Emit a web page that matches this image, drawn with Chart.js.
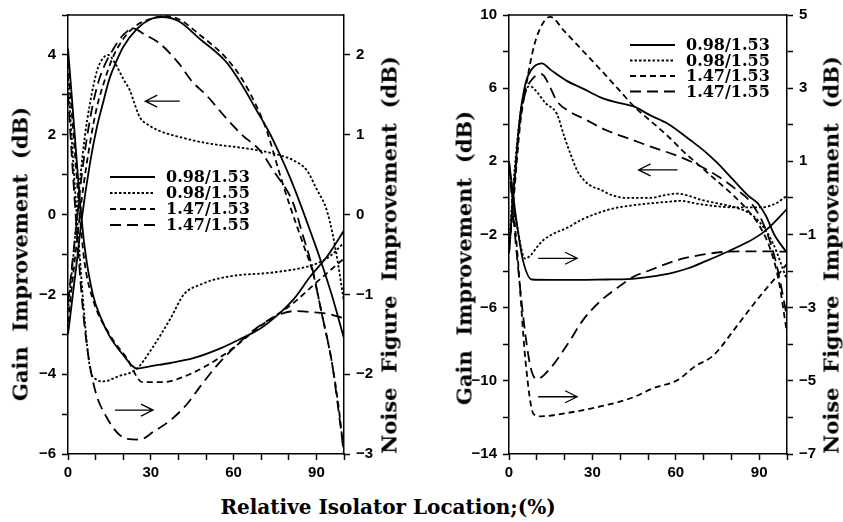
<!DOCTYPE html>
<html>
<head>
<meta charset="utf-8">
<script src="https://cdn.jsdelivr.net/npm/chart.js@4.4.1/dist/chart.umd.min.js"></script>
<style>
  body { margin: 0; background: #fff; width: 843px; height: 522px; position: relative; overflow: hidden; }
  canvas { position: absolute; top: 0; }
  #c1 { left: 0; }
  #c2 { left: 440px; }
  .t { position: absolute; font: bold 21px 'DejaVu Serif'; color: #000; white-space: pre; line-height: 1; }
  .v { transform: translate(-50%, -50%) rotate(-90deg); }
  .h { transform: translate(-50%, -50%); }
</style>
</head>
<body>
<canvas id="c1" width="430" height="480"></canvas>
<canvas id="c2" width="403" height="480"></canvas>
<div class="t v" style="left:20px; top:254px">Gain  Improvement  (dB)</div>
<div class="t v" style="left:389px; top:255px">Noise  Figure  Improvement  (dB)</div>
<div class="t v" style="left:464px; top:258px">Gain  Improvement  (dB)</div>
<div class="t v" style="left:831px; top:255px">Noise  Figure  Improvement  (dB)</div>
<div class="t h" style="left:388px; top:507px; font-size:20px">Relative Isolator Location;(%)</div>
<script>
const series = ['0.98/1.53', '0.98/1.55', '1.47/1.53', '1.47/1.55'];

// left panel: gain improvement (dB), read on the left axis
const lGain098_153 = [[0,-3],[3,-1.3],[5,-0.1],[8,1.3],[10.5,2.2],[12.7,2.8],[15,3.4],[17.6,3.85],[20,4.2],[25,4.65],[30,4.9],[34,4.95],[40,4.85],[47.8,4.4],[57.6,3.8],[63,3.25],[68.4,2.6],[72.6,2.1],[76.8,1.5],[80,1.0],[84,0.3],[87.7,-0.4],[91.3,-1.1],[95.5,-2.0],[100,-3.1]];
const lGain098_155 = [[0,-2.4],[2,-1.0],[4,0.6],[6,1.9],[8,2.8],[10.5,3.6],[12.5,3.9],[14.5,4.0],[17,3.8],[20,3.4],[22.5,3.1],[24,2.8],[26,2.44],[29,2.25],[33,2.1],[40,1.95],[51,1.78],[60,1.7],[69.6,1.6],[77,1.48],[82,1.35],[86.6,1.1],[90,0.65],[93.7,0.12],[96,-0.53],[98,-1.3],[100,-2.2]];
const lGain147_153 = [[0,-2.7],[3,-0.8],[5,0.4],[8,1.8],[10.5,2.7],[13,3.3],[16,3.9],[20,4.4],[25,4.75],[30,4.9],[35,4.97],[40,4.9],[47.8,4.5],[57.6,3.9],[63,3.4],[68.4,2.7],[72,2.1],[76.8,1.0],[80,0.3],[85,-0.7],[88.9,-1.5],[92,-2.5],[95.6,-3.7],[98,-4.8],[100,-6]];
const lGain147_155 = [[0,-2.2],[3,-0.3],[5,1.0],[8,2.4],[10.5,3.2],[13,3.7],[16,4.1],[20,4.5],[23.6,4.66],[28,4.5],[33,4.3],[40,3.8],[45,3.33],[50,3.0],[57.5,2.4],[63,2.0],[69.6,1.6],[74.4,1.1],[81.5,0.3],[85,-0.5],[88,-1.2],[92,-2.5],[95.6,-3.7],[98,-4.9],[100,-6]];

// left panel: noise figure improvement (dB), read on the right axis
const lNf098_153 = [[0,2.08],[2,1.2],[4,0.3],[6,-0.4],[9,-1.0],[12,-1.3],[15,-1.52],[20,-1.76],[25,-1.93],[30,-1.9],[37,-1.86],[45.4,-1.8],[55,-1.68],[63.5,-1.54],[70,-1.42],[75.6,-1.27],[82,-1.05],[87.7,-0.78],[94,-0.52],[100,-0.2]];
const lNf098_155 = [[0,1.7],[2,0.6],[4,-0.4],[6,-1.3],[8,-1.93],[10,-2.06],[12.8,-2.09],[18,-2.03],[25,-1.93],[30,-1.7],[37,-1.31],[42,-1.0],[47.8,-0.88],[57.6,-0.78],[75.6,-0.72],[88.8,-0.63],[95,-0.52],[100,-0.35]];
const lNf147_153 = [[0,1.9],[2,1.0],[4,0.1],[6,-0.6],[9,-1.06],[15,-1.5],[21.3,-1.8],[27,-2.1],[34,-2.1],[45.4,-1.98],[57.6,-1.73],[69.6,-1.4],[81.6,-1.11],[90,-0.85],[100,-0.55]];
const lNf147_155 = [[0,1.5],[2,0.4],[4,-0.6],[6,-1.4],[9.1,-2.1],[14,-2.54],[21.3,-2.81],[26,-2.82],[31,-2.72],[37,-2.58],[43,-2.38],[48,-2.15],[54,-1.89],[64.8,-1.52],[70,-1.38],[76.8,-1.25],[82,-1.21],[87.7,-1.22],[95,-1.25],[100,-1.3]];

// right panel: gain improvement (dB)
const rGain098_153 = [[0,-3],[2,1],[4,4.5],[6,6.3],[8,7.0],[11.8,7.35],[15,7.0],[20.8,6.4],[27,5.95],[32.9,5.5],[38,5.25],[44.8,5.0],[51,4.5],[57,4.07],[65.3,3.15],[70,2.6],[75,1.9],[80,1.1],[86,0.13],[89.5,-0.3],[92.5,-1.0],[95.4,-2.0],[100,-3.0]];
const rGain098_155 = [[0,-2.5],[2,1.5],[4,4.5],[6,5.9],[7.6,6.1],[10,5.8],[13,5.2],[17.2,4.6],[20,3.3],[22,2.45],[24.5,1.5],[26.8,1.0],[29,0.7],[32.9,0.45],[37,0.15],[42.6,0.0],[51,0.0],[56,0.15],[60.6,0.24],[65,0.1],[69,-0.1],[75,-0.3],[81,-0.5],[86,-0.8],[90,-1.3],[95,-2.5],[100,-4.5]];
const rGain147_153 = [[0,-3],[2,0.5],[4,4],[6,6],[9,8.3],[12,9.5],[14.8,9.9],[20,9.1],[26.8,8.0],[33,7.0],[39,6.0],[45,5.0],[51,4.2],[57,3.4],[63,2.5],[69,1.7],[75,0.9],[81,0.1],[86,-0.7],[90,-1.5],[94,-2.8],[97,-4.5],[100,-7.4]];
const rGain147_155 = [[0,-3],[2,1],[4,4.3],[6,5.8],[9,6.6],[11.8,6.76],[14,6.3],[17.2,5.3],[22,4.7],[26.8,4.34],[35,3.7],[44.8,3.15],[52,2.75],[60.6,2.3],[68,1.8],[75,1.2],[81,0.55],[87,-0.25],[92,-1.6],[96,-3.5],[100,-6.5]];

// right panel: noise figure improvement (dB)
const rNf098_153 = [[0,1.0],[3,-0.8],[5,-1.7],[8.2,-2.23],[15,-2.24],[25,-2.24],[35,-2.23],[42.6,-2.22],[51,-2.15],[58,-2.06],[64.2,-1.93],[71,-1.72],[78.6,-1.47],[86,-1.2],[90.6,-0.99],[95,-0.7],[100,-0.3]];
const rNf098_155 = [[0,0.8],[3,-0.8],[5.8,-1.66],[8,-1.55],[10,-1.35],[12.4,-1.15],[16,-0.98],[20.8,-0.82],[26,-0.6],[32.9,-0.39],[38,-0.28],[44.8,-0.2],[52,-0.14],[58,-0.1],[61.7,-0.08],[67,-0.15],[75,-0.23],[82,-0.26],[90.6,-0.26],[96,-0.15],[100,0.06]];
const rNf147_153 = [[0,1.0],[3,-1.5],[6,-4.5],[8.8,-5.9],[11.2,-5.97],[20.8,-5.88],[32.9,-5.7],[44,-5.47],[52,-5.2],[60.6,-4.98],[67,-4.6],[73.6,-4.3],[81,-3.6],[86,-3.1],[91,-2.62],[96.8,-2.1],[100,-1.8]];
const rNf147_155 = [[0,0.9],[3,-1.7],[6,-3.8],[8,-4.7],[10,-4.95],[14.8,-4.66],[20.8,-4.03],[26.8,-3.32],[32.9,-2.82],[38.9,-2.46],[44.9,-2.15],[50.9,-1.97],[60.5,-1.70],[69,-1.56],[78.6,-1.47],[90,-1.46],[100,-1.47]];

// arrows: [from x, to x, at gain value]
const lArrows = [[40.5, 28, 2.84], [17, 30.8, -4.9]];
const rArrows = [[60.6, 46.6, 1.53], [10.5, 24.5, -3.3], [10.5, 24.5, -10.87]];

const dash = [[], [2.5, 2], [6, 4], [11, 6]];
const minus = v => String(v).replace('-', '\u2212');

function line(i, d, axis) {
  return {
    label: series[i],
    data: d.map(p => ({ x: p[0], y: p[1] })),
    yAxisID: axis,
    borderColor: '#000',
    borderWidth: 1.8,
    borderDash: dash[i],
    pointRadius: 0,
    cubicInterpolationMode: 'monotone',
    fill: false
  };
}

function sets(gains, nfs) {
  return gains.map((d, i) => line(i, d, 'y')).concat(nfs.map((d, i) => line(i, d, 'y2')));
}

const extras = {
  id: 'extras',
  afterDatasetsDraw(chart, args, opts) {
    const { ctx, chartArea: a, scales } = chart;
    ctx.save();
    ctx.strokeStyle = '#000';
    ctx.lineWidth = 1.5;
    ctx.beginPath();
    ctx.moveTo(a.left, a.top);
    ctx.lineTo(a.right, a.top);
    ctx.stroke();

    ctx.lineWidth = 1.3;
    opts.arrows.forEach(([x0, x1, g]) => {
      const p0 = scales.x.getPixelForValue(x0), p1 = scales.x.getPixelForValue(x1), py = scales.y.getPixelForValue(g);
      const d = Math.sign(p1 - p0);
      ctx.beginPath();
      ctx.moveTo(p0, py); ctx.lineTo(p1, py);
      ctx.moveTo(p1 - d * 12, py - 6); ctx.lineTo(p1, py); ctx.lineTo(p1 - d * 12, py + 6);
      ctx.stroke();
    });

    const lg = opts.legend;
    ctx.font = 'bold 16px "DejaVu Serif"';
    ctx.textBaseline = 'middle';
    ctx.fillStyle = '#000';
    series.forEach((s, i) => {
      const y = a.top + lg.y + i * lg.dy;
      const x = a.left + lg.x;
      ctx.lineWidth = 1.8;
      ctx.setLineDash(dash[i]);
      ctx.beginPath();
      ctx.moveTo(x, y); ctx.lineTo(x + 45, y);
      ctx.stroke();
      ctx.setLineDash([]);
      ctx.fillText(s, x + 56, y + 1);
    });
    ctx.restore();
  }
};

function scales(o) {
  const font = { family: 'Liberation Sans', size: 15, weight: 'bold' };
  const grid = { drawOnChartArea: false, tickLength: 6, tickColor: '#000', tickWidth: 1.5 };
  const border = { color: '#000', width: 1.5 };
  return {
    x: {
      type: 'linear', min: 0, max: 100, grid, border,
      ticks: { stepSize: 10, autoSkip: false, maxRotation: 0, padding: 4, color: '#000', font,
               callback: v => v % 30 === 0 ? String(v) : '' },
      afterFit: s => { s.height = 26; }
    },
    y: {
      type: 'linear', position: 'left', min: o.gMin, max: o.gMax, grid, border,
      ticks: { stepSize: o.gStep, autoSkip: false, padding: 6, color: '#000', font,
               callback: v => o.gShow(v) ? minus(v) : '' },
      afterFit: s => { s.width = o.lw; }
    },
    y2: {
      type: 'linear', position: 'right', min: o.nMin, max: o.nMax, grid, border,
      afterBuildTicks: s => { s.ticks = s.ticks.filter(t => Number.isInteger(t.value)); },
      ticks: { stepSize: 1, autoSkip: false, padding: 6, color: '#000', font,
               callback: v => o.nShow(v) ? minus(v) : '' },
      afterFit: s => { s.width = o.rw; }
    }
  };
}

function make(id, datasets, sc, arrows, legend) {
  return new Chart(document.getElementById(id), {
    type: 'line',
    data: { datasets },
    options: {
      responsive: false,
      animation: false,
      layout: { padding: { top: 10, left: 0, right: 0, bottom: 0 } },
      plugins: { legend: { display: false }, tooltip: { enabled: false }, extras: { arrows, legend } },
      scales: sc
    },
    plugins: [extras]
  });
}

make('c1',
  sets([lGain098_153, lGain098_155, lGain147_153, lGain147_155], [lNf098_153, lNf098_155, lNf147_153, lNf147_155]),
  scales({ gMin: -6, gMax: 5, gStep: 1, gShow: v => v % 2 === 0, nMin: -3, nMax: 2.5, nShow: v => true, lw: 68, rw: 86 }),
  lArrows, { x: 42, y: 162, dy: 16 });

make('c2',
  sets([rGain098_153, rGain098_155, rGain147_153, rGain147_155], [rNf098_153, rNf098_155, rNf147_153, rNf147_155]),
  scales({ gMin: -14, gMax: 10, gStep: 2, gShow: v => (v + 14) % 4 === 0, nMin: -7, nMax: 5, nShow: v => Math.abs(v) % 2 === 1, lw: 69, rw: 56 }),
  rArrows, { x: 121, y: 30, dy: 15.5 });
</script>
</body>
</html>
